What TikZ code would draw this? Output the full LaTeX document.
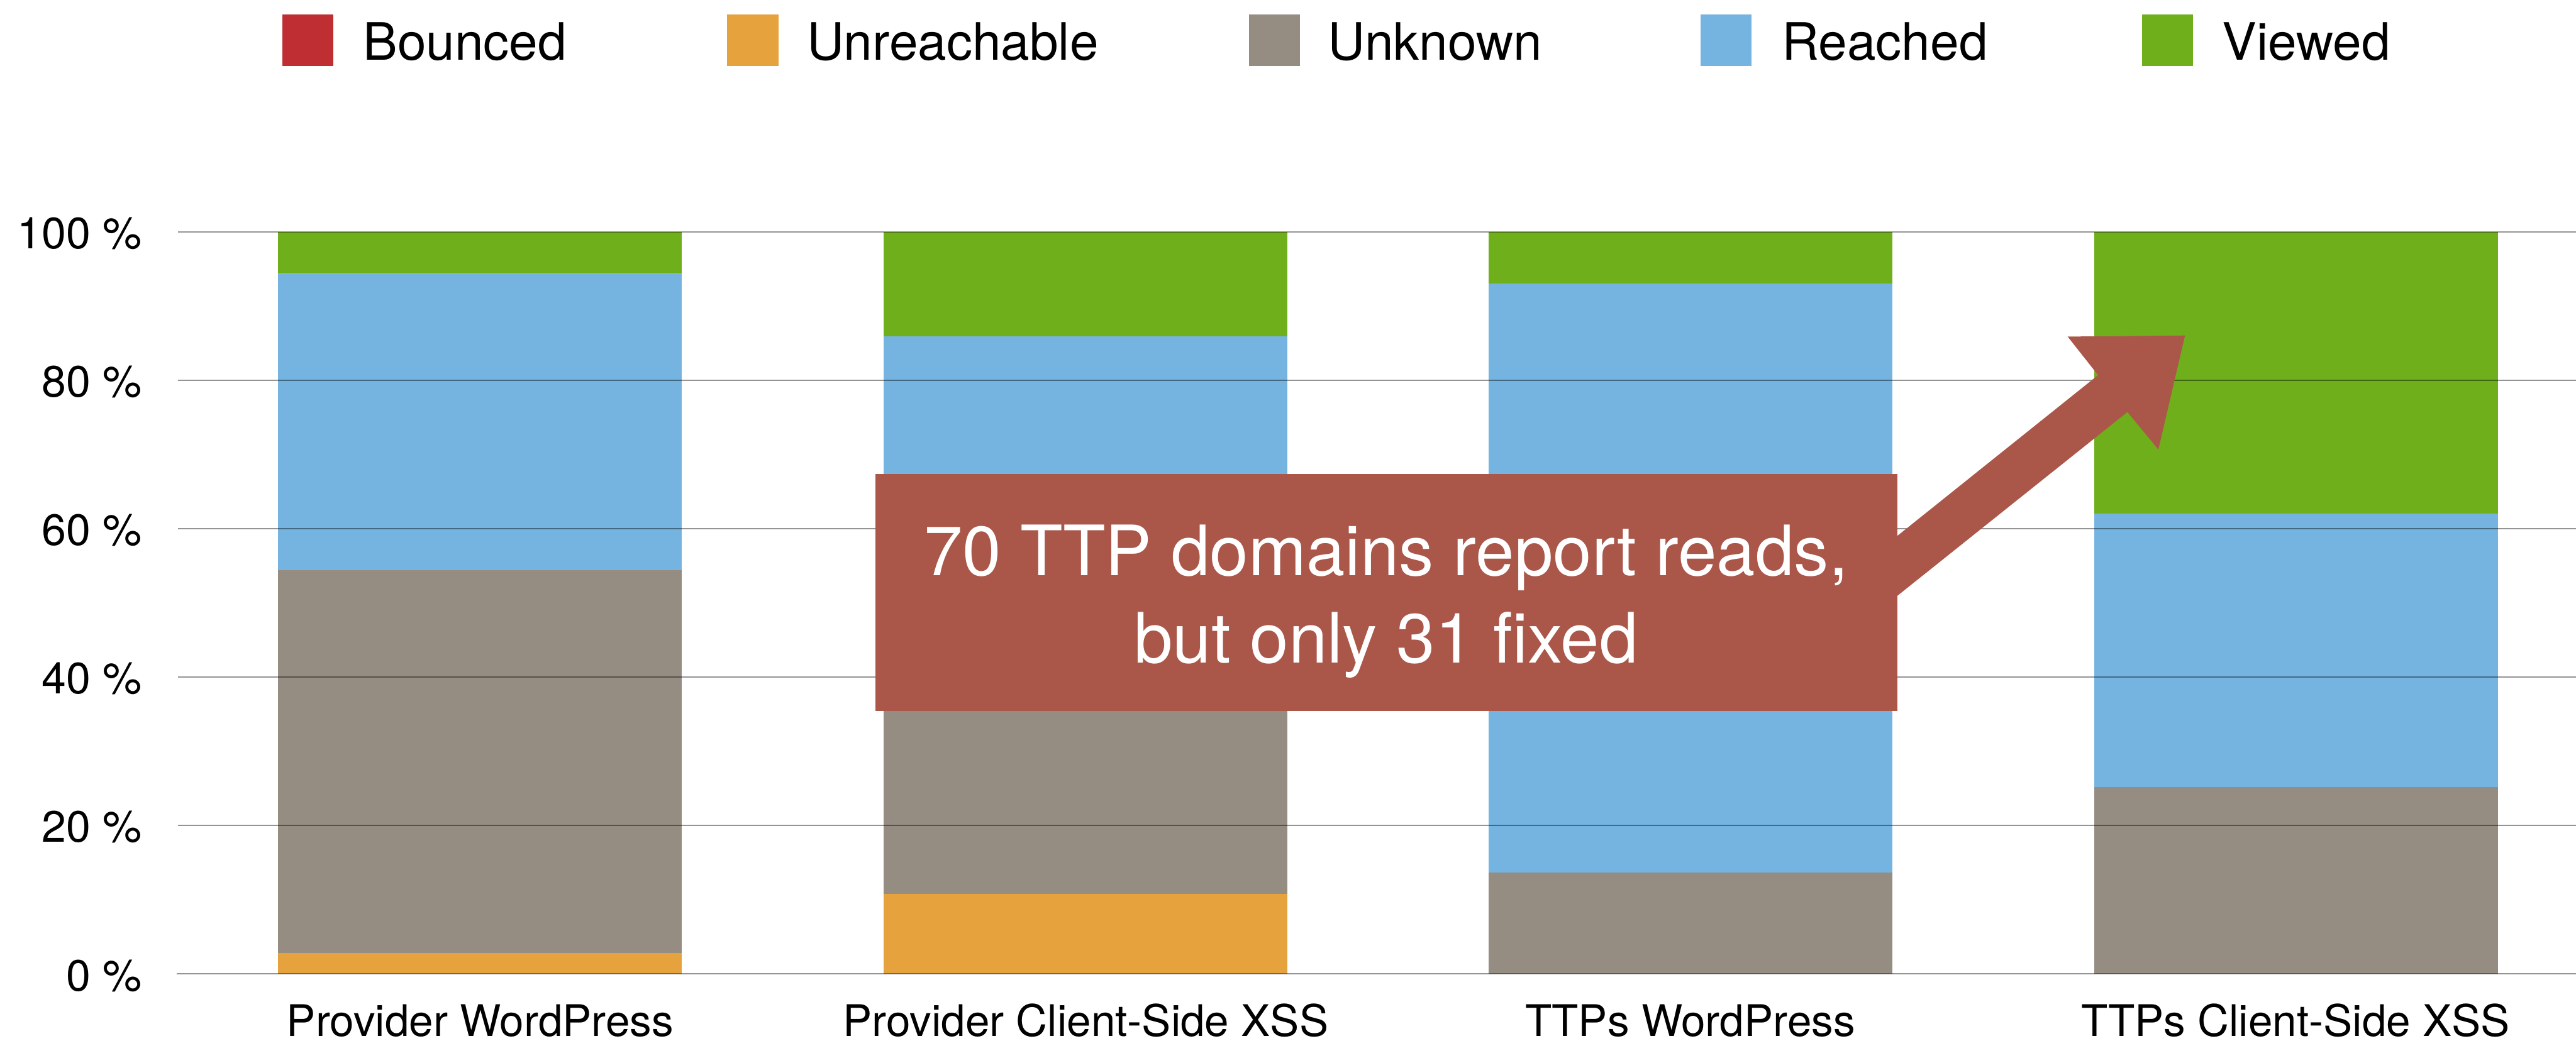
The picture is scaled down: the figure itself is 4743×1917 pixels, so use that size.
\documentclass[tikz,border=0pt]{standalone}
\usepackage{fontspec}
\setmainfont{TeX Gyre Heros}

% series colours
\definecolor{cBounced}{RGB}{190,46,50}
\definecolor{cUnreach}{RGB}{230,162,61}
\definecolor{cUnknown}{RGB}{149,140,130}
\definecolor{cReached}{RGB}{117,180,224}
\definecolor{cViewed}{RGB}{111,175,28}
\definecolor{cCallout}{RGB}{170,87,74}

% one stacked segment: colour, left x, bottom %, top %
\newcommand\stackseg[4]{%
  \fill[#1] (#2,{1794-13.67*#3}) rectangle ({#2+743},{1794-13.67*#4});}

\tikzset{
  swatch/.style={minimum width=0.94cm, minimum height=0.94cm, inner sep=0pt, outer sep=0pt},
  legendtext/.style={anchor=base west, inner sep=0pt, font=\fontsize{27}{32}\selectfont},
  ticklabel/.style={anchor=base east, inner sep=0pt, font=\fontsize{23}{28}\selectfont},
  catlabel/.style={anchor=base, inner sep=0pt, font=\fontsize{22.8}{27}\selectfont},
  gridline/.style={draw=black, draw opacity=0.42, line width=0.025cm},
  calloutbox/.style={fill=cCallout, minimum width=18.81cm, minimum height=4.37cm, inner sep=0pt, outer sep=0pt},
  callouttext/.style={text=white, align=center, inner sep=0pt, font=\fontsize{36.4}{45.8}\selectfont},
}

\begin{document}
\begin{tikzpicture}[x=0.01cm, y=-0.01cm]
  \useasboundingbox (0,0) rectangle (4743,1917);

  % legend
  \node[swatch, fill=cBounced] (sw1) at (567,74) {};
  \node[legendtext] (lg1) at (668,110) {Bounced};
  \node[swatch, fill=cUnreach] (sw2) at (1386,74) {};
  \node[legendtext] (lg2) at (1485,110) {Unreachable};
  \node[swatch, fill=cUnknown] (sw3) at (2347,74) {};
  \node[legendtext] (lg3) at (2444,110) {Unknown};
  \node[swatch, fill=cReached] (sw4) at (3178,74) {};
  \node[legendtext] (lg4) at (3280,110) {Reached};
  \node[swatch, fill=cViewed] (sw5) at (3991,74) {};
  \node[legendtext] (lg5) at (4091,110) {Viewed};

  % stacked bars
  \stackseg{cUnreach}{512}{0}{2.85}
  \stackseg{cUnknown}{512}{2.85}{54.4}
  \stackseg{cReached}{512}{54.4}{94.5}
  \stackseg{cViewed}{512}{94.5}{100}

  \stackseg{cUnreach}{1627}{0}{10.8}
  \stackseg{cUnknown}{1627}{10.8}{47}
  \stackseg{cReached}{1627}{47}{85.9}
  \stackseg{cViewed}{1627}{85.9}{100}

  \stackseg{cUnknown}{2741}{0}{13.7}
  \stackseg{cReached}{2741}{13.7}{93.05}
  \stackseg{cViewed}{2741}{93.05}{100}

  \stackseg{cUnknown}{3856}{0}{25.2}
  \stackseg{cReached}{3856}{25.2}{62.0}
  \stackseg{cViewed}{3856}{62.0}{100}

  % grid lines and y axis labels
  \foreach \v in {20,40,...,100}{
    \draw[gridline] (328,{1794-13.67*\v}) -- (4743,{1794-13.67*\v});
    \node[ticklabel] (tick\v) at (262,{1825-13.67*\v}) {\v\ \%};
  }
  \draw[gridline] (325,1794) -- (4743,1794);
  \node[ticklabel] (tick0) at (262,1825) {0\ \%};

  % category labels
  \node[catlabel] (cat1) at (884,1909) {Provider WordPress};
  \node[catlabel] (cat2) at (1999,1909) {Provider Client-Side XSS};
  \node[catlabel] (cat3) at (3112,1909) {TTPs WordPress};
  \node[catlabel] (cat4) at (4227,1909) {TTPs Client-Side XSS};

  % callout arrow
  \coordinate (tip) at (4023,618);
  \fill[cCallout] (3300,1142) -- (3863,691) -- (3807,620) -- (tip)
    -- (3974,828) -- (3917,759) -- (3300,1252) -- cycle;

  % callout box
  \node[calloutbox] (callout) at (2552.5,1091.5) {};
  \node[callouttext] (callouttext) at (2552,1108)
    {70 TTP domains report reads,\\but only 31 fixed};
\end{tikzpicture}
\end{document}
